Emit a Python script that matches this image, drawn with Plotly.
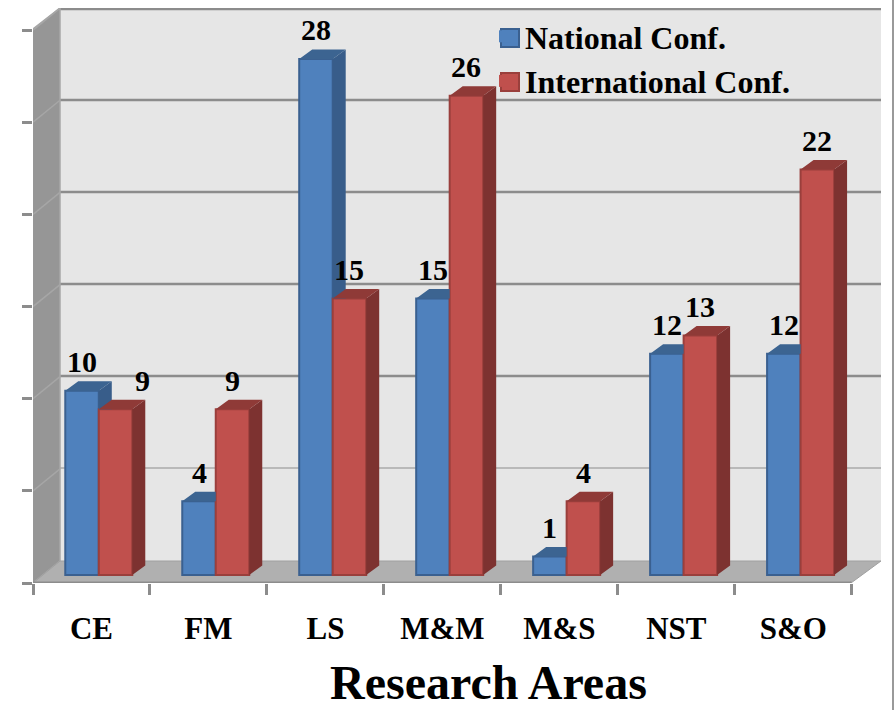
import plotly.graph_objects as go

CATEGORIES = ["CE", "FM", "LS", "M&M", "M&S", "NST", "S&O"]
NATIONAL = [10, 4, 28, 15, 1, 12, 12]
INTERNATIONAL = [9, 9, 15, 26, 4, 13, 22]
AXIS_TITLE = "Research Areas"
SERIES_NAMES = ["National Conf.", "International Conf."]

# --- figure geometry (pixels) -------------------------------------------
W, H = 896, 710
PL, PR, PT, PB = 33, 881, 8, 583        # plot area
ZERO_PX = 575                           # where bars stand
UNIT_Y = 18.43                          # px per value unit
XMIN, XMAX = -0.5, 6.75
UNIT_X = (PR - PL) / (XMAX - XMIN)
YMIN = (ZERO_PX - PB) / UNIT_Y
YMAX = (ZERO_PX - PT) / UNIT_Y

def px_x(p):
    return XMIN + (p - PL) / UNIT_X

def px_y(p):
    return (ZERO_PX - p) / UNIT_Y

def paper_x(p):
    return (p - PL) / (PR - PL)

def paper_y(p):
    return (PB - p) / (PB - PT)

BAR_W = 33.5 / UNIT_X
GROUP_SHIFT = 7.3 / UNIT_X
DX = 13 / UNIT_X
DY = 9.5 / UNIT_Y

BLUE, BLUE_EDGE, BLUE_SIDE, BLUE_TOP = "#4f81bd", "#3a6090", "#385d8a", "#3c6491"
RED, RED_EDGE, RED_SIDE, RED_TOP = "#c0504d", "#9a3f3c", "#7d3230", "#8f3a37"
GRID = "#8c8c8c"
FONT = "Liberation Serif"

fig = go.Figure()
idx = list(range(len(CATEGORIES)))

# front faces
fig.add_trace(go.Bar(x=idx, y=NATIONAL, name=SERIES_NAMES[0], width=BAR_W,
                     offset=GROUP_SHIFT - BAR_W,
                     marker=dict(color=BLUE, line=dict(color=BLUE_EDGE, width=2))))
fig.add_trace(go.Bar(x=idx, y=INTERNATIONAL, name=SERIES_NAMES[1], width=BAR_W,
                     offset=GROUP_SHIFT,
                     marker=dict(color=RED, line=dict(color=RED_EDGE, width=2))))

# depth faces, computed from the values
def face(xs, ys, color):
    fig.add_trace(go.Scatter(x=xs, y=ys, mode="lines", fill="toself", fillcolor=color,
                             line=dict(width=0, color=color), showlegend=False,
                             hoverinfo="skip"))

bs_x, bs_y, bt_x, bt_y, rs_x, rs_y, rt_x, rt_y = [], [], [], [], [], [], [], []
for i, (b, r) in enumerate(zip(NATIONAL, INTERNATIONAL)):
    left = i + GROUP_SHIFT - BAR_W
    mid = i + GROUP_SHIFT
    right = i + GROUP_SHIFT + BAR_W
    if b > r:
        bs_x += [mid, mid, mid + DX, mid + DX, None]
        bs_y += [r, b, b + DY, r, None]
        bt_x += [left, mid, mid + DX, left + DX, None]
    else:
        bt_x += [left, mid, mid, left + DX, None]
    bt_y += [b, b, b + DY, b + DY, None]
    rs_x += [right, right, right + DX, right + DX, None]
    rs_y += [0, r, r + DY, DY, None]
    rt_x += [mid, right, right + DX, mid + DX, None]
    rt_y += [r, r, r + DY, r + DY, None]
face(bs_x, bs_y, BLUE_SIDE)
face(bt_x, bt_y, BLUE_TOP)
face(rs_x, rs_y, RED_SIDE)
face(rt_x, rt_y, RED_TOP)

# --- chart walls --------------------------------------------------------
def poly(pts):
    return "M" + " L".join(f"{px_x(a)},{px_y(b)}" for a, b in pts) + " Z"

shapes = [
    dict(type="rect", layer="below", xref="x", yref="y", x0=px_x(60), x1=px_x(881),
         y0=px_y(561), y1=px_y(8), fillcolor="#e6e6e6", line=dict(width=0)),
]
GRID_PX = [468, 376, 284, 192, 100, 9]
GRID_WIDTH = [1, 2.5, 2.5, 2.5, 2.5, 2.5]
TICK_PX = [583 - 92.15 * k for k in range(7)]
for gp, gw in zip(GRID_PX, GRID_WIDTH):
    shapes.append(dict(type="line", layer="below", xref="x", yref="y", x0=px_x(60), x1=px_x(881),
                       y0=px_y(gp), y1=px_y(gp), line=dict(color=GRID, width=gw)))
shapes += [
    dict(type="path", layer="between", xref="x", yref="y",
         path=poly([(33, 583), (60, 561), (60, 8), (33, 29)]),
         fillcolor="#969696", line=dict(color="#a8a8a8", width=1.5)),
    dict(type="path", layer="between", xref="x", yref="y",
         path=poly([(33, 583), (60, 561), (881, 561), (851, 583)]),
         fillcolor="#b0b0b0", line=dict(color="#a0a0a0", width=1)),
    dict(type="line", layer="between", xref="x", yref="y", x0=px_x(33), x1=px_x(851.5),
         y0=px_y(583), y1=px_y(583), line=dict(color=GRID, width=3)),
    dict(type="line", layer="between", xref="x", yref="y", x0=px_x(32.5), x1=px_x(32.5),
         y0=px_y(583), y1=px_y(29), line=dict(color="#8c8c8c", width=2)),
]
for tp in TICK_PX[1:]:
    shapes.append(dict(type="line", layer="between", xref="x", yref="y", x0=px_x(33), x1=px_x(60),
                       y0=px_y(tp), y1=px_y(tp - 22), line=dict(color="#a6a6a6", width=1.5)))
# outer frame edge on the right of the picture
shapes.append(dict(type="line", layer="above", xref="paper", yref="paper", x0=paper_x(893), x1=paper_x(893),
                   y0=paper_y(H), y1=paper_y(0), line=dict(color="#9a9a9a", width=2)))
# larger legend keys
for (y0, y1), fill, edge in [((29, 47), BLUE, BLUE_EDGE), ((73, 91), RED, RED_EDGE)]:
    shapes.append(dict(type="rect", layer="above", xref="paper", yref="paper",
                       x0=paper_x(501), x1=paper_x(519), y0=paper_y(y0), y1=paper_y(y1),
                       fillcolor=fill, line=dict(color=edge, width=2)))

# --- value labels -------------------------------------------------------
LABEL_NUDGE = {(0, 1): 27}
annotations = []
for s, vals in enumerate([NATIONAL, INTERNATIONAL]):
    for i, v in enumerate(vals):
        xc = i + GROUP_SHIFT + (s - 0.5) * BAR_W
        annotations.append(dict(x=xc, y=v, xref="x", yref="y", text=str(v), showarrow=False,
                                xshift=LABEL_NUDGE.get((i, s), 0), yshift=29, yanchor="middle",
                                font=dict(family=FONT, size=30, color="black", weight="bold")))
annotations.append(dict(x=paper_x(488), y=paper_y(683), xref="paper", yref="paper",
                        text=AXIS_TITLE, showarrow=False, yanchor="middle",
                        font=dict(family=FONT, size=48, color="black", weight="bold")))

fig.update_layout(
    width=W, height=H, margin=dict(l=PL, r=W - PR, t=PT, b=H - PB, pad=0),
    paper_bgcolor="white", plot_bgcolor="white", barmode="overlay", hovermode=False,
    shapes=shapes, annotations=annotations,
    legend=dict(x=paper_x(485), y=paper_y(9), xanchor="left", yanchor="top",
                bgcolor="rgba(0,0,0,0)", font=dict(family=FONT, size=32, color="black", weight="bold")),
    xaxis=dict(range=[XMIN, XMAX], tickmode="array", tickvals=idx, ticktext=CATEGORIES,
               ticks="", ticklen=0, ticklabelstandoff=24, showgrid=False, zeroline=False, showline=False,
               tickfont=dict(family=FONT, size=31, color="black", weight="bold"),
               minor=dict(tickmode="array", tickvals=[k - 0.5 for k in range(8)], ticks="outside",
                          ticklen=11, tickwidth=2.5, tickcolor=GRID, showgrid=False)),
    yaxis=dict(range=[YMIN, YMAX], tickmode="array", tickvals=[px_y(t) for t in TICK_PX],
               showticklabels=False, ticks="outside", ticklen=10, tickwidth=2.5, tickcolor=GRID,
               showgrid=False, zeroline=False, showline=False),
)

fig.write_html("out.html", config={"displayModeBar": False},
               post_script="document.body.style.margin='0';"
                           "document.querySelectorAll('.legend .legendpoints path')"
                           ".forEach(function(p){p.style.strokeWidth='0';});")
